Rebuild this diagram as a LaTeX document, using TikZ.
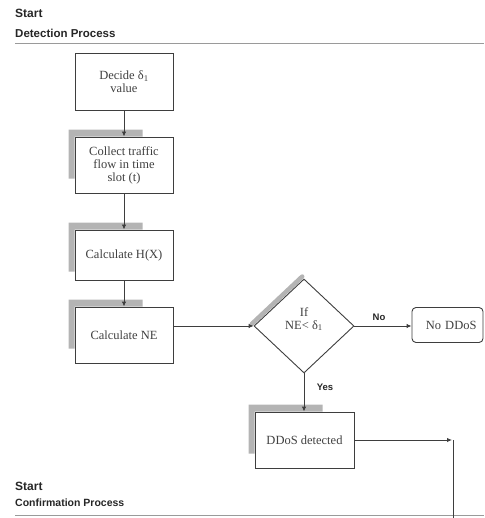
\documentclass[tikz,border=0pt]{standalone}
\usepackage{fontspec}
\setmainfont{Liberation Serif}
\newfontfamily\hdfont{Liberation Sans}
\usetikzlibrary{arrows.meta,shapes.geometric,calc,backgrounds}

\definecolor{ink}{HTML}{3E3E3E}
\definecolor{txt}{HTML}{404040}
\definecolor{shadecol}{HTML}{B4B4B4}
\definecolor{rulecol}{HTML}{9A9A9A}

\tikzset{
  stepbox/.style={draw=ink, line width=0.9pt, fill=white, text=txt,
    minimum width=98pt, inner sep=2pt, align=center,
    font=\fontsize{12.5}{13}\selectfont},
  decision/.style={diamond, draw=ink, line width=0.9pt, fill=white,
    minimum width=100pt, minimum height=94pt, inner sep=0pt},
  endbox/.style={draw=ink, line width=0.9pt, rounded corners=4pt, fill=white,
    text=txt, minimum height=35pt, text width=58pt, align=right,
    inner xsep=6.5pt, font=\fontsize{12.5}{13}\selectfont},
  flow/.style={draw=ink, line width=0.9pt, -{Latex[length=5pt,width=4.5pt]}},
  plain/.style={draw=ink, line width=0.9pt},
  heading/.style={anchor=west, inner sep=0pt, text=black!85,
    font=\hdfont\bfseries\fontsize{11.5}{13}\selectfont},
  branch/.style={inner sep=0pt, text=black!85,
    font=\hdfont\bfseries\fontsize{9.5}{11}\selectfont},
  divider/.style={draw=rulecol, line width=0.8pt},
}

% grey L-shaped shade on the upper-left corner of a step box
\newcommand\cornershade[1]{%
  \fill[shadecol] ($(#1.north west)+(-6,-7)$) -- ++(74,0) -- ++(0,7)
    -- ++(-68,0) -- ++(0,42) -- ++(-6,0) -- cycle;}

\begin{document}
\begin{tikzpicture}[x=1pt,y=-1pt]
\useasboundingbox (0,0) rectangle (484,518);

% section headings
\node[heading, font=\hdfont\bfseries\fontsize{12}{13}\selectfont]
  (start1) at (15,13) {Start};
\node[heading] (detect) at (15,33) {Detection Process};
\coordinate (r1a) at (15,43);
\coordinate (r1b) at (484,43);
\draw[divider] (r1a) -- (r1b);

\node[heading, font=\hdfont\bfseries\fontsize{12}{13}\selectfont]
  (start2) at (15,486) {Start};
\node[heading, font=\hdfont\bfseries\fontsize{10.5}{12}\selectfont]
  (confirm) at (15,503) {Confirmation Process};
\coordinate (r2a) at (15,515);
\coordinate (r2b) at (484,515);
\draw[divider] (r2a) -- (r2b);

% detection steps
\node[stepbox, minimum height=57pt] (decide) at (124,81.5)
  {Decide δ\textsubscript{1}\\value};
\node[stepbox, minimum height=56pt] (collect) at (124,165)
  {Collect traffic\\flow in time\\slot (t)};
\node[stepbox, minimum height=50pt] (entropy) at (124,255)
  {Calculate H(X)};
\node[stepbox, minimum height=56pt] (ne) at (124,335)
  {Calculate NE};

\node[decision] (test) at (304,326) {};
\node[inner sep=0pt, align=center, text=txt,
  font=\fontsize{12.5}{13}\selectfont] (testtxt) at (304,319)
  {If\\NE< δ\textsubscript{1}};

\node[endbox] (noddos) at (447.5,325) {No DDoS};
\node[stepbox, minimum width=99pt, minimum height=56pt] (ddos) at (304.5,440)
  {DDoS detected};

% shading behind the boxes and along the upper-left edge of the test
\begin{scope}[on background layer]
  \cornershade{collect}
  \cornershade{entropy}
  \cornershade{ne}
  \cornershade{ddos}
  \draw[shadecol, line width=4.5pt, line cap=round]
    ($(test.west)+(-1.8,-2)$) -- ($(test.north)+(-1.8,-2)$);
\end{scope}

% connectors
\draw[flow] (decide) -- (collect);
\draw[flow] (collect) -- (entropy);
\draw[flow] (entropy) -- (ne);
\draw[flow] (test.west -| ne.east) -- (test.west);
\draw[flow] (test.east) -- (noddos.west |- test.east);
\draw[flow] (test.south) -- (ddos.north -| test.south);

\coordinate (turn) at (452,440);
\coordinate (down) at (453,518);
\draw[flow] (ddos.east) -- (turn);
\draw[plain] (turn -| down) -- (down);

% branch labels
\node[branch] (nolbl) at (379,317) {No};
\node[branch] (yeslbl) at (325,387) {Yes};
\end{tikzpicture}
\end{document}
